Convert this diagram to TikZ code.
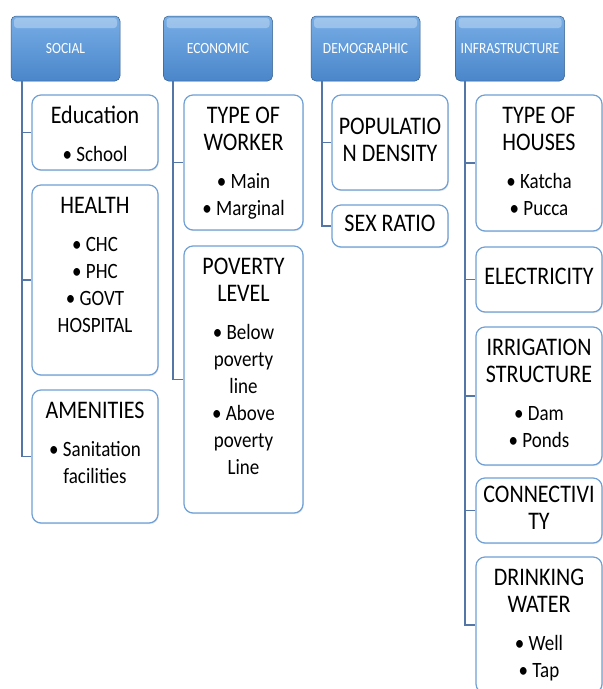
\documentclass[tikz,border=0pt]{standalone}
\usepackage{fontspec}
\setmainfont{Carlito}
\usepackage{graphicx}
\usetikzlibrary{shadows}

\definecolor{headblue}{RGB}{74,134,202}
\definecolor{headtop}{RGB}{120,174,230}
\definecolor{linkblue}{RGB}{84,118,166}
\definecolor{kidedge}{RGB}{112,160,214}

\newcommand{\smalltxt}{\fontsize{19}{23.5}\selectfont}
\newcommand{\dotitem}{\smalltxt\textbullet\ }
\newcommand{\tallbox}[3]{\parbox[c][#2][t]{#1}{\vspace*{10pt}\centering\fontsize{22}{23.5}\selectfont
  \scalebox{1}[1.15]{\begin{tabular}{@{}c@{}}#3\end{tabular}}\par}}
\newcommand{\flatbox}[3]{\parbox[c][#2][c]{#1}{\centering\fontsize{22}{23.5}\selectfont
  \scalebox{1}[1.15]{\begin{tabular}{@{}c@{}}#3\end{tabular}}\par}}

\tikzset{
  head/.style={draw=headblue!70!black, line width=0.5pt, rounded corners=5pt,
    top color=headtop, bottom color=headblue, text=white, inner sep=0pt,
    minimum width=109pt, minimum height=65pt, font=\fontsize{13.5}{16}\selectfont,
    path picture={\fill[white, opacity=0.3, rounded corners=3pt]
      ([xshift=3pt,yshift=-2pt]path picture bounding box.north west) rectangle
      ([xshift=-3pt,yshift=-12pt]path picture bounding box.north east);}},
  kid/.style={draw=kidedge, line width=1.2pt, rounded corners=9pt, fill=white, inner sep=0pt,
    drop shadow={shadow xshift=0.8pt, shadow yshift=-1.2pt, opacity=0.2}},
  link/.style={draw=linkblue, line width=1.6pt}
}

\begin{document}
\begin{tikzpicture}[x=1pt,y=-1pt]
\path[use as bounding box, fill=white] (0,0) rectangle (603,689);

\node[head] (social) at (65.5,48.5) {\scalebox{1}[1.15]{SOCIAL}};
\node[head] (econ) at (218,48.5) {\scalebox{1}[1.15]{ECONOMIC}};
\node[head] (demo) at (365.5,48.5) {\scalebox{1}[1.15]{DEMOGRAPHIC}};
\node[head] (infra) at (510,48.5) {\scalebox{1}[1.15]{INFRASTRUCTURE}};

% social
\node[kid] (edu) at (95,132.5) {\tallbox{126pt}{75pt}{Education\\[9pt]\dotitem School}};
\node[kid] (health) at (95,280) {\tallbox{126pt}{190pt}{HEALTH\\[9pt]\dotitem CHC\\\dotitem PHC\\\dotitem GOVT\\\smalltxt HOSPITAL}};
\node[kid] (amen) at (95,456.5) {\tallbox{126pt}{133pt}{AMENITIES\\[9pt]\dotitem Sanitation\\\smalltxt facilities}};

% economic
\node[kid] (worker) at (243.5,162.5) {\tallbox{119pt}{135pt}{TYPE OF\\WORKER\\[9pt]\dotitem Main\\\dotitem Marginal}};
\node[kid] (poverty) at (243.5,379.5) {\tallbox{119pt}{267pt}{POVERTY\\LEVEL\\[9pt]\dotitem Below\\\smalltxt poverty\\\smalltxt line\\\dotitem Above\\\smalltxt poverty\\\smalltxt Line}};

% demographic
\node[kid] (density) at (390,142.5) {\flatbox{116pt}{95pt}{POPULATIO\\N DENSITY}};
\node[kid] (sexratio) at (390,226) {\flatbox{116pt}{42pt}{SEX RATIO}};

% infrastructure
\node[kid] (houses) at (539,163) {\tallbox{126pt}{136pt}{TYPE OF\\HOUSES\\[9pt]\dotitem Katcha\\\dotitem Pucca}};
\node[kid] (elec) at (539,279.5) {\flatbox{126pt}{65pt}{ELECTRICITY}};
\node[kid] (irrig) at (539,396) {\tallbox{126pt}{138pt}{IRRIGATION\\STRUCTURE\\[9pt]\dotitem Dam\\\dotitem Ponds}};
\node[kid] (conn) at (539,510.5) {\flatbox{126pt}{65pt}{CONNECTIVI\\TY}};
\node[kid] (water) at (539,625) {\tallbox{126pt}{136pt}{DRINKING\\WATER\\[9pt]\dotitem Well\\\dotitem Tap}};

\foreach \k in {edu,health,amen}
  \draw[link] ([xshift=11pt]social.south west) |- (\k.west);
\foreach \k in {worker,poverty}
  \draw[link] ([xshift=10pt]econ.south west) |- (\k.west);
\foreach \k in {density,sexratio}
  \draw[link] ([xshift=11pt]demo.south west) |- (\k.west);
\foreach \k in {houses,elec,irrig,conn,water}
  \draw[link] ([xshift=10pt]infra.south west) |- (\k.west);
\end{tikzpicture}
\end{document}
